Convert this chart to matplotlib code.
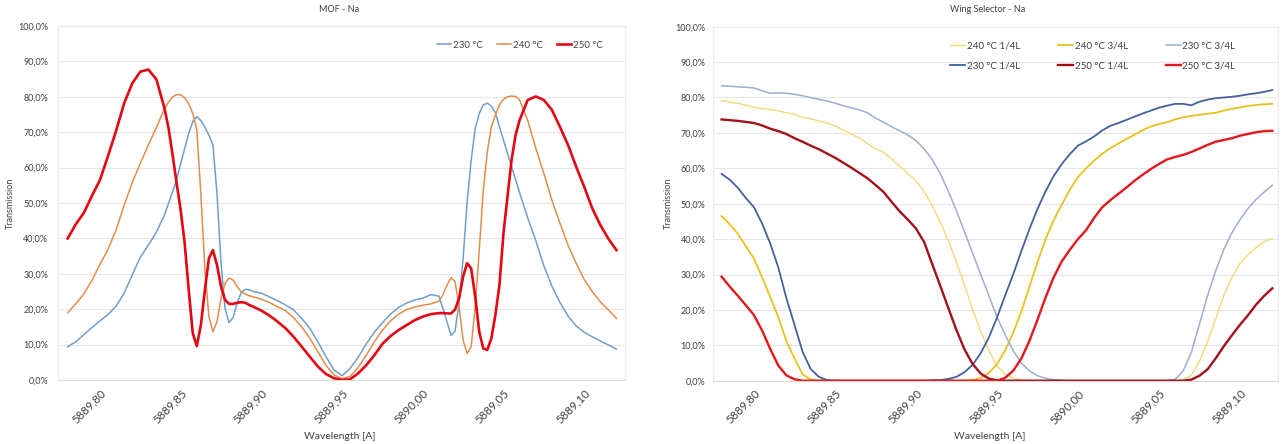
import numpy as np
import matplotlib
matplotlib.use("Agg")
import matplotlib.pyplot as plt
from matplotlib.ticker import FuncFormatter

plt.rcParams['font.family'] = ['Lato', 'DejaVu Sans']

# ---- MOF - Na (left) ----
wl_mof = [5889.780, 5889.785, 5889.790, 5889.795, 5889.800, 5889.805, 5889.810, 5889.815,
          5889.820, 5889.825, 5889.830, 5889.835,
          5889.8400, 5889.8425, 5889.8450, 5889.8475, 5889.8500, 5889.8525, 5889.8550, 5889.8575,
          5889.8600, 5889.8625, 5889.8650, 5889.8675, 5889.8700, 5889.8725, 5889.8750, 5889.8775,
          5889.8800, 5889.8825, 5889.8850, 5889.8875, 5889.8900, 5889.8925,
          5889.895, 5889.900, 5889.905, 5889.910, 5889.915, 5889.920, 5889.925, 5889.930,
          5889.935, 5889.940, 5889.945, 5889.950, 5889.955, 5889.960, 5889.965, 5889.970,
          5889.975, 5889.980, 5889.985, 5889.990, 5889.995, 5890.000, 5890.005,
          5890.0100, 5890.0125, 5890.0150, 5890.0175, 5890.0200, 5890.0225, 5890.0250, 5890.0275,
          5890.0300, 5890.0325, 5890.0350, 5890.0375, 5890.0400, 5890.0425, 5890.0450, 5890.0475,
          5890.0500, 5890.0525, 5890.0550, 5890.0575,
          5890.060, 5890.065, 5890.070, 5890.075, 5890.080, 5890.085, 5890.090, 5890.095,
          5890.100, 5890.105, 5890.110, 5890.115, 5890.120]

t230 = [9.4, 10.8, 12.8, 14.8, 16.7, 18.5, 20.9, 24.5, 29.7, 34.7, 38.1, 41.8,
        46.7, 49.9, 53.2, 56.5, 61.2, 65.4, 69.7, 73.0, 74.4, 73.3, 71.4, 69.2, 66.4, 52.7,
        33.0, 20.2, 16.2, 17.7, 21.7, 24.7, 25.6, 25.5,
        25.0, 24.5, 23.5, 22.4, 21.2, 19.8, 17.4, 14.6, 10.8, 6.6, 2.8, 1.2, 3.3, 6.4, 10.2,
        13.5, 16.2, 18.6, 20.5, 21.7, 22.6, 23.1, 24.1,
        23.7, 20.2, 16.5, 12.6, 13.8, 21.7, 34.4, 50.4, 62.1, 71.1, 75.3, 77.7, 78.2, 77.4,
        75.5, 71.5, 67.8, 64.0, 60.3, 56.7,
        52.9, 45.8, 39.4, 32.3, 26.5, 21.9, 18.1, 15.3, 13.5, 12.2, 11.0, 9.9, 8.7]

t240 = [19.0, 21.5, 24.3, 28.1, 32.7, 36.9, 42.4, 49.4, 55.8, 61.2, 66.4, 71.4,
        76.6, 78.5, 80.0, 80.6, 80.6, 79.7, 78.0, 75.3, 70.6, 52.7, 31.1, 17.9, 13.6, 16.5,
        23.1, 27.3, 28.8, 28.2, 26.4, 24.9, 24.3, 23.8,
        23.5, 22.8, 21.9, 20.7, 19.6, 17.6, 15.0, 11.8, 8.0, 4.2, 1.4, 0.4, 1.0, 3.6, 7.0,
        10.8, 14.1, 16.7, 18.6, 19.9, 20.6, 21.1, 21.5,
        22.3, 24.0, 26.8, 28.9, 27.8, 20.7, 11.3, 7.5, 9.4, 20.7, 36.7, 53.7, 64.5, 71.5,
        74.9, 77.7, 79.3, 80.0, 80.2, 80.1,
        79.1, 73.4, 65.5, 58.4, 50.8, 44.3, 38.1, 33.0, 28.4, 25.0, 22.1, 19.8, 17.4]

t250 = [40.0, 44.0, 47.2, 52.0, 56.5, 63.3, 70.4, 78.2, 83.8, 87.1, 87.7, 84.9,
        76.7, 71.1, 63.6, 55.6, 48.0, 38.6, 25.4, 13.2, 9.6, 15.5, 25.4, 34.4, 36.7, 32.5,
        26.4, 22.6, 21.5, 21.5, 21.8, 22.0, 21.8, 21.2,
        20.7, 19.6, 18.2, 16.5, 14.6, 12.2, 9.4, 6.6, 3.8, 1.7, 0.5, 0.0, 0.2, 1.9, 4.2,
        7.0, 10.2, 12.4, 14.1, 15.5, 16.9, 17.9, 18.6,
        18.9, 18.9, 18.8, 18.8, 19.9, 23.1, 29.2, 33.0, 31.5, 23.5, 13.6, 8.9, 8.5, 11.8,
        18.4, 26.8, 41.4, 51.8, 62.1, 69.2,
        73.4, 79.1, 80.1, 79.1, 76.3, 71.5, 66.4, 60.3, 54.6, 48.5, 43.8, 39.9, 36.7]

# ---- Wing Selector - Na (right) ----
wl_wing = np.round(np.arange(5889.780, 5890.1201, 0.005), 3)

w240_14 = [79.1, 78.7, 78.4, 77.8, 77.2, 76.9, 76.6, 76.2, 75.7, 75.2, 74.4, 74.0, 73.4,
           72.8, 72.0, 70.8, 69.7, 68.6, 67.0, 65.5, 64.5, 62.7, 60.5, 58.5, 56.5, 53.5,
           49.5, 44.8, 39.5, 33.5, 27.0, 20.0, 14.0, 8.5, 4.2, 1.8, 0.7, 0.2,
           0, 0, 0, 0, 0, 0, 0, 0, 0, 0, 0, 0, 0, 0, 0, 0, 0, 0, 0,
           0.3, 1.5, 5.5, 11.0, 17.5, 24.0, 29.2, 33.1, 35.6, 37.6, 39.3, 40.2]

w240_34 = [46.5, 44.2, 41.5, 38.0, 34.5, 29.2, 23.7, 18.0, 11.2, 6.3, 1.8, 0.4,
           0, 0, 0, 0, 0, 0, 0, 0, 0, 0, 0, 0, 0, 0, 0, 0, 0, 0, 0,
           0.2, 0.8, 2.2, 4.6, 8.5, 13.5, 19.5, 26.5, 33.5, 40.0, 45.3, 49.7, 54.0, 57.5,
           60.0, 62.2, 64.1, 65.7, 67.0, 68.3, 69.5, 70.8, 71.8, 72.5, 73.0, 73.8, 74.4,
           74.8, 75.1, 75.4, 75.7, 76.3, 76.8, 77.2, 77.6, 77.9, 78.1, 78.2]

w230_34 = [83.3, 83.2, 83.0, 82.9, 82.7, 81.9, 81.2, 81.3, 81.2, 80.9, 80.5, 80.0, 79.5,
           79.0, 78.4, 77.7, 77.1, 76.5, 75.7, 74.2, 73.0, 71.7, 70.6, 69.4, 67.8, 65.5,
           62.5, 58.5, 53.5, 48.0, 42.0, 36.0, 30.0, 24.0, 18.0, 13.0, 8.5, 5.0, 2.8, 1.4,
           0.7, 0.3, 0.1,
           0, 0, 0, 0, 0, 0, 0, 0, 0, 0, 0, 0, 0,
           0.4, 2.8, 8.0, 16.0, 24.0, 31.0, 37.0, 41.8, 45.5, 48.7, 51.2, 53.3, 55.2]

w230_14 = [58.4, 56.8, 54.5, 51.6, 49.0, 44.4, 38.8, 32.0, 23.3, 15.8, 8.2, 3.3, 1.1, 0.2,
           0, 0, 0, 0, 0, 0, 0, 0, 0, 0, 0, 0,
           0.1, 0.2, 0.5, 1.1, 2.4, 4.5, 7.8, 12.2, 17.8, 24.0, 30.0, 36.5, 42.8, 48.5,
           53.5, 57.8, 61.2, 64.0, 66.4, 67.6, 69.0, 70.7, 72.0, 72.8, 73.7, 74.6, 75.5,
           76.3, 77.1, 77.7, 78.2, 78.2, 77.8, 78.8, 79.4, 79.8, 80.0, 80.2, 80.5, 80.9,
           81.2, 81.6, 82.1]

w250_14 = [73.8, 73.6, 73.4, 73.1, 72.8, 72.1, 71.2, 70.5, 69.7, 68.5, 67.5, 66.4, 65.4,
           64.2, 63.0, 61.6, 60.2, 58.7, 57.2, 55.3, 53.3, 50.5, 47.8, 45.5, 43.0, 39.2,
           33.0, 26.8, 20.5, 14.3, 8.8, 4.7, 2.0, 0.6, 0.1,
           0, 0, 0, 0, 0, 0, 0, 0, 0, 0, 0, 0, 0, 0, 0, 0, 0, 0, 0, 0, 0, 0, 0,
           0.3, 1.4, 3.2, 6.3, 9.7, 12.8, 15.8, 18.5, 21.5, 24.0, 26.1]

w250_34 = [29.4, 26.6, 24.0, 21.3, 18.5, 14.2, 9.0, 4.3, 1.5, 0.4,
           0, 0, 0, 0, 0, 0, 0, 0, 0, 0, 0, 0, 0, 0, 0, 0, 0, 0, 0, 0, 0, 0, 0, 0, 0,
           0.8, 2.8, 6.2, 11.2, 17.2, 23.5, 29.2, 33.7, 37.0, 40.0, 42.5, 46.0, 49.0, 51.0,
           52.8, 54.6, 56.5, 58.2, 59.8, 61.2, 62.5, 63.2, 63.8, 64.6, 65.6, 66.6, 67.5,
           68.0, 68.5, 69.2, 69.7, 70.2, 70.5, 70.6]

tick_pos = [5889.80, 5889.85, 5889.90, 5889.95, 5890.00, 5890.05, 5890.10]
tick_txt = ['5889,80', '5889,85', '5889,90', '5889,95', '5890,00', '5889,05', '5889,10']

W, H = 1282, 444
fig = plt.figure(figsize=(W / 100, H / 100), dpi=100)


def px_axes(x0, x1, y0, y1):
    return fig.add_axes([x0 / W, 1 - y1 / H, (x1 - x0) / W, (y1 - y0) / H])


def style(ax, xlim, pad):
    ax.set_xlim(*xlim)
    ax.set_ylim(0, 100)
    ax.set_yticks(np.arange(0, 101, 10))
    ax.yaxis.set_major_formatter(FuncFormatter(lambda v, p: f"{v:.1f}%".replace('.', ',')))
    ax.set_xticks(tick_pos)
    ax.set_xticklabels(tick_txt, rotation=45, ha='right', va='top', rotation_mode='anchor')
    ax.tick_params(length=0, labelsize=6.5, colors='#404040')
    ax.tick_params(axis='x', labelsize=8.3, pad=5)
    ax.tick_params(axis='y', pad=pad)
    ax.grid(axis='y', color='#E6E6E6', lw=0.8)
    ax.set_axisbelow(True)
    for s in ax.spines.values():
        s.set_color('#EBEBEB')
        s.set_linewidth(0.8)
    ax.spines['bottom'].set_color('#D9D9D9')


# left chart
ax1 = px_axes(58, 625, 26, 380)
style(ax1, (5889.774, 5890.1253), 7)
ax1.plot(wl_mof, t230, color='#6F9FCB', lw=1.1, label='230 °C')
ax1.plot(wl_mof, t240, color='#E38D4C', lw=1.1, label='240 °C')
ax1.plot(wl_mof, t250, color='#E30613', lw=1.9, label='250 °C')
ax1.legend(loc='center', bbox_to_anchor=(520 / W, 1 - 45 / H), bbox_transform=fig.transFigure,
           ncol=3, frameon=False, fontsize=7, handlelength=1.5, handletextpad=0.2,
           columnspacing=1.4, labelcolor='#404040')

# right chart
ax2 = px_axes(713, 1278, 26.7, 380.7)
style(ax2, (5889.7747, 5890.1235), 5.5)
l1, = ax2.plot(wl_wing, w240_14, color='#F3D978', lw=1.0, label='240 °C 1/4L')
l2, = ax2.plot(wl_wing, w240_34, color='#EBC11E', lw=1.3, label='240 °C 3/4L')
l3, = ax2.plot(wl_wing, w230_34, color='#9DAED2', lw=1.1, label='230 °C 3/4L')
l4, = ax2.plot(wl_wing, w230_14, color='#43619E', lw=1.3, label='230 °C 1/4L')
l5, = ax2.plot(wl_wing, w250_14, color='#A3101B', lw=1.7, label='250 °C 1/4L')
l6, = ax2.plot(wl_wing, w250_34, color='#E4161E', lw=1.7, label='250 °C 3/4L')
hs = [l1, l4, l2, l5, l3, l6]
ax2.legend(hs, [h.get_label() for h in hs], loc='center',
           bbox_to_anchor=(1093 / W, 1 - 56 / H), bbox_transform=fig.transFigure,
           ncol=3, frameon=False, fontsize=7, handlelength=1.5, handletextpad=0.2,
           columnspacing=3.9, labelspacing=1.2, labelcolor='#404040')

# titles and axis labels
for cx, title in [(339, 'MOF - Na'), (988, 'Wing Selector - Na')]:
    fig.text(cx / W, 1 - 10 / H, title, ha='center', va='center', fontsize=6.5, color='#404040')
for cx in (340, 990):
    fig.text(cx / W, 1 - 436 / H, 'Wavelength [A]', ha='center', va='center', fontsize=7.5,
             color='#404040')
for cx in (10, 668):
    fig.text(cx / W, 1 - 203 / H, 'Transmission', ha='center', va='center', rotation=90,
             fontsize=6.5, color='#404040')

fig.savefig('out.png', dpi=100, facecolor='white')
